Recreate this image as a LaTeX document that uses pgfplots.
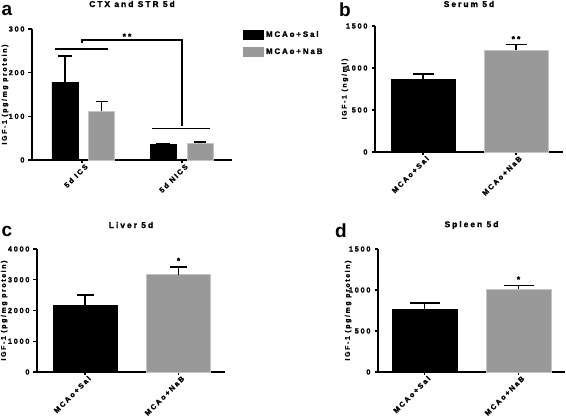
\documentclass[border=0pt]{standalone}
\usepackage{fontspec}
\setmainfont{Liberation Sans}[LetterSpace=24, BoldFeatures={FakeBold=1.6}]
\newfontfamily\plainbold{Liberation Sans}
\usepackage{pgfplots}
\pgfplotsset{compat=1.18}
\definecolor{bargray}{HTML}{999999}
\definecolor{edgegray}{HTML}{C4C4C4}
\pgfplotsset{
  gp/.style={
    scale only axis,
    axis lines*=left,
    axis line style={-, line width=1.5pt},
    tick style={black, line width=1.2pt},
    major tick length=3.5pt,
    tick align=outside,
    enlargelimits=false,
    clip=false,
    ymin=0,
    /pgf/number format/assume math mode=true,
    /pgf/number format/1000 sep={},
    tick label style={font=\fontsize{7.3}{8}\selectfont\bfseries},
    yticklabel style={xshift=-0.5pt},
    xticklabel style={rotate=45, anchor=east, inner sep=1pt, yshift=-4.5pt, xshift=3pt},
    label style={font=\fontsize{6.9}{7}\selectfont\bfseries},
    title style={font=\fontsize{8.4}{9}\selectfont\bfseries, anchor=center},
    error bars/y dir=plus,
    error bars/y explicit,
    error bars/error bar style={line width=1.8pt, black},
  },
  salbar/.style={ybar, bar shift=0pt, fill=black, draw=black, line width=0.6pt,
    legend image code/.code={\fill[black] (0pt,-4.5pt) rectangle (20pt,4.5pt);}},
  nabbar/.style={ybar, bar shift=0pt, fill=bargray, draw=edgegray, line width=0.8pt,
    legend image code/.code={\fill[bargray] (0pt,-4.5pt) rectangle (20pt,4.5pt);}},
}
\begin{document}
\begin{tikzpicture}[x=1pt,y=1pt]
\useasboundingbox (0,0) rectangle (566,418);

% Panel a
\node[font=\plainbold\fontsize{19}{20}\selectfont\bfseries, anchor=center] at (7,408) {a};
\begin{axis}[gp,
  at={(32pt,258pt)}, anchor=south west,
  width=200pt, height=131pt,
  xmin=0, xmax=200, ymax=300,
  ytick={0,100,200,300},
  xtick={50,150}, xticklabels={5d ICS, 5d NICS},
  ylabel={IGF-1 (pg/mg protein)},
  ylabel style={at={(axis description cs:-0.135,0.5)}, anchor=center},
  title={CTX and STR 5d},
  title style={at={(axis description cs:0.5,1)}, yshift=19pt},
  bar width=26,
  legend style={at={(axis description cs:1.055,1.0)}, anchor=north west, draw=none, fill=none,
    font=\fontsize{7.9}{8}\selectfont\bfseries, row sep=6pt, inner sep=0pt,
    /tikz/every even column/.append style={column sep=3pt}},
  legend cell align=left,
]
\addplot[salbar, error bars/error mark options={rotate=90, mark size=7pt, line width=1.8pt, black}]
  coordinates {(33,178) +- (0,60) (131.5,35) +- (0,2)};
\addlegendentry{MCAo+Sal}
\addplot[nabbar, error bars/error mark options={rotate=90, mark size=6pt, line width=1.8pt, black}]
  coordinates {(69.5,112) +- (0,22) (168,38) +- (0,3)};
\addlegendentry{MCAo+NaB}
\draw[line width=1.8pt] (axis cs:23,254) -- (axis cs:76,254);
\draw[line width=1.8pt] (axis cs:50,268) -- (axis cs:50,274) -- (axis cs:150,274) -- (axis cs:150,78);
\draw[line width=1.8pt] (axis cs:120,72) -- (axis cs:178,72);
\node[font=\fontsize{8.5}{9}\selectfont\bfseries] at (axis cs:95,283) {**};
\end{axis}

% Panel b
\node[font=\plainbold\fontsize{19}{20}\selectfont\bfseries, anchor=center] at (345,408) {b};
\begin{axis}[gp,
  at={(375pt,266pt)}, anchor=south west,
  width=188pt, height=126pt,
  xmin=0, xmax=188, ymax=1500,
  ytick={0,500,1000,1500},
  xtick={48,141}, xticklabels={MCAo+Sal, MCAo+NaB},
  ylabel={IGF-1 (ng/ml)},
  ylabel style={at={(axis description cs:-0.16,0.5)}, anchor=center},
  title={Serum 5d},
  title style={at={(axis description cs:0.5,1)}, yshift=16pt},
  bar width=64,
]
\addplot[salbar, error bars/error mark options={rotate=90, mark size=10.5pt, line width=1.8pt, black}]
  coordinates {(48,860) +- (0,65)};
\addplot[nabbar, error bars/error mark options={rotate=90, mark size=10.5pt, line width=1.8pt, black}]
  coordinates {(141,1215) +- (0,65)};
\node[font=\fontsize{8.5}{9}\selectfont\bfseries] at (axis cs:141,1345) {**};
\end{axis}

% Panel c
\node[font=\plainbold\fontsize{19}{20}\selectfont\bfseries, anchor=center] at (7,187) {c};
\begin{axis}[gp,
  at={(37pt,46pt)}, anchor=south west,
  width=188pt, height=123pt,
  xmin=0, xmax=188, ymax=4000,
  ytick={0,1000,2000,3000,4000},
  xtick={48,141.5}, xticklabels={MCAo+Sal, MCAo+NaB},
  ylabel={IGF-1 (pg/mg protein)},
  ylabel style={at={(axis description cs:-0.175,0.5)}, anchor=center},
  title={Liver 5d},
  title style={at={(axis description cs:0.5,1)}, yshift=18pt},
  bar width=64,
]
\addplot[salbar, error bars/error mark options={rotate=90, mark size=8.5pt, line width=1.8pt, black}]
  coordinates {(48,2170) +- (0,330)};
\addplot[nabbar, error bars/error mark options={rotate=90, mark size=8.5pt, line width=1.8pt, black}]
  coordinates {(141.5,3170) +- (0,250)};
\node[font=\fontsize{8.5}{9}\selectfont\bfseries] at (axis cs:141.5,3620) {*};
\end{axis}

% Panel d
\node[font=\plainbold\fontsize{19}{20}\selectfont\bfseries, anchor=center] at (341,187) {d};
\begin{axis}[gp,
  at={(378pt,46pt)}, anchor=south west,
  width=187pt, height=123pt,
  xmin=0, xmax=187, ymax=1500,
  ytick={0,500,1000,1500},
  xtick={46.5,140.5}, xticklabels={MCAo+Sal, MCAo+NaB},
  ylabel={IGF-1 (pg/mg protein)},
  ylabel style={at={(axis description cs:-0.16,0.5)}, anchor=center},
  title={Spleen 5d},
  title style={at={(axis description cs:0.5,1)}, yshift=18pt},
  bar width=65,
]
\addplot[salbar, error bars/error mark options={rotate=90, mark size=15pt, line width=1.8pt, black}]
  coordinates {(46.5,760) +- (0,80)};
\addplot[nabbar, error bars/error mark options={rotate=90, mark size=15pt, line width=1.8pt, black}]
  coordinates {(140.5,1010) +- (0,45)};
\node[font=\fontsize{8.5}{9}\selectfont\bfseries] at (axis cs:140.5,1130) {*};
\end{axis}
\end{tikzpicture}
\end{document}
